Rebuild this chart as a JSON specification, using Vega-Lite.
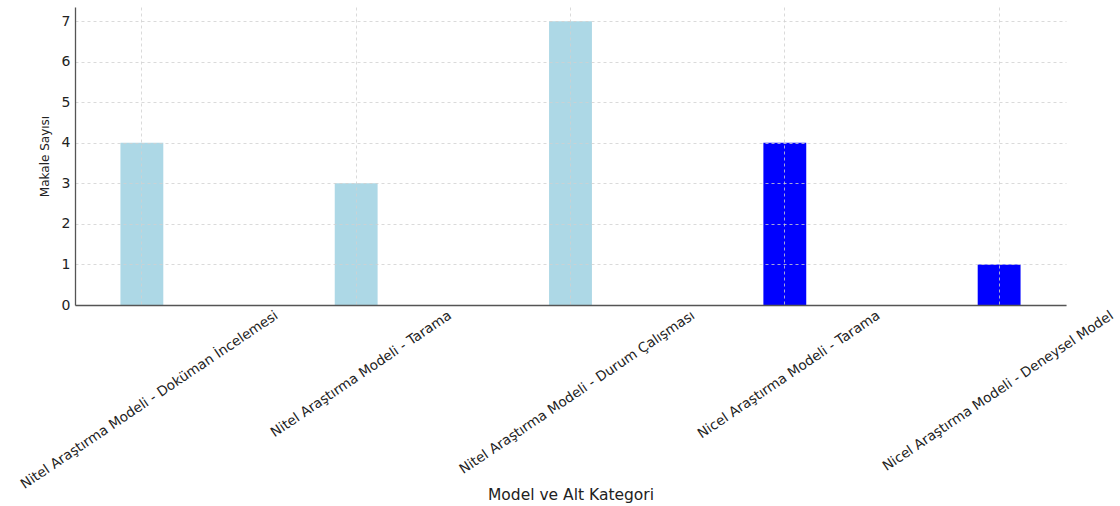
{
  "$schema": "https://vega.github.io/schema/vega-lite/v6.json",
  "width": 991,
  "height": 298,
  "autosize": "none",
  "padding": {"left": 75, "top": 7, "right": 54, "bottom": 201},
  "background": "white",
  "config": {"view": {"stroke": null}, "font": "DejaVu Sans"},
  "data": {
    "values": [
      {"kategori": "Nitel Araştırma Modeli - Doküman İncelemesi", "model": "Nitel", "sayi": 4},
      {"kategori": "Nitel Araştırma Modeli - Tarama", "model": "Nitel", "sayi": 3},
      {"kategori": "Nitel Araştırma Modeli - Durum Çalışması", "model": "Nitel", "sayi": 7},
      {"kategori": "Nicel Araştırma Modeli - Tarama", "model": "Nicel", "sayi": 4},
      {"kategori": "Nicel Araştırma Modeli - Deneysel Model", "model": "Nicel", "sayi": 1}
    ]
  },
  "mark": {"type": "bar"},
  "encoding": {
    "x": {
      "field": "kategori",
      "type": "nominal",
      "sort": null,
      "scale": {"paddingInner": 0.8, "paddingOuter": 0.212},
      "axis": {
        "title": "Model ve Alt Kategori",
        "titleFontSize": 15.5,
        "titleFontWeight": "normal",
        "titleColor": "#222222",
        "titleY": 182,
        "titleBaseline": "top",
        "labelAngle": -34,
        "labelAlign": "right",
        "labelBaseline": "top",
        "labelFontSize": 13.6,
        "labelColor": "#222222",
        "labelPadding": 3,
        "labelLimit": 0,
        "labelOffset": {
          "condition": [
            {"test": "datum.value == 'Nitel Araştırma Modeli - Doküman İncelemesi'", "value": 131},
            {"test": "datum.value == 'Nitel Araştırma Modeli - Durum Çalışması'", "value": 119},
            {"test": "datum.value == 'Nicel Araştırma Modeli - Deneysel Model'", "value": 109}
          ],
          "value": 90
        },
        "grid": true,
        "gridDash": [3, 3],
        "gridColor": "#d0d0d0",
        "gridWidth": 0.8,
        "bandPosition": 0.5,
        "ticks": false,
        "domainColor": "#555555",
        "domainWidth": 1.3,
        "zindex": 1
      }
    },
    "y": {
      "field": "sayi",
      "type": "quantitative",
      "scale": {"domain": [0, 7.35], "nice": false},
      "axis": {
        "title": "Makale Sayısı",
        "titleFontSize": 12,
        "titleFontWeight": "normal",
        "titleColor": "#222222",
        "titlePadding": 10,
        "values": [0, 1, 2, 3, 4, 5, 6, 7],
        "labelFontSize": 14,
        "labelColor": "#222222",
        "labelPadding": 5,
        "ticks": false,
        "grid": true,
        "gridDash": [3, 3],
        "gridColor": "#d0d0d0",
        "gridWidth": 0.8,
        "domainColor": "#555555",
        "domainWidth": 1.3,
        "zindex": 1
      }
    },
    "color": {
      "field": "model",
      "type": "nominal",
      "scale": {"domain": ["Nitel", "Nicel"], "range": ["#ADD8E6", "#0000FF"]},
      "legend": null
    }
  }
}
